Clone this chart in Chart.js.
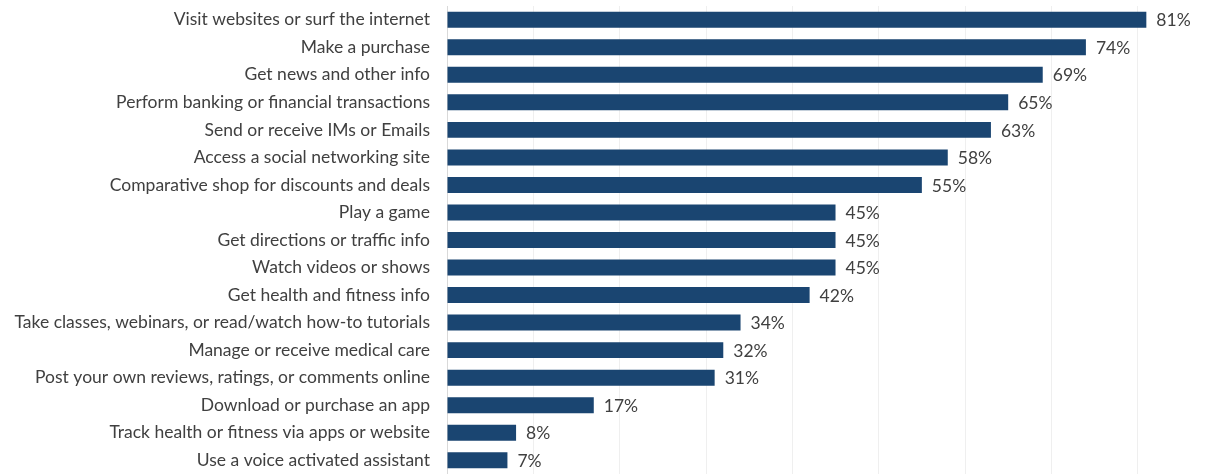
<!DOCTYPE html>
<html>
<head>
<meta charset="utf-8">
<script src="https://cdn.jsdelivr.net/npm/chart.js@4"></script>
<style>
html,body{margin:0;padding:0;background:#fff;}
#wrap{width:1218px;height:474px;position:relative;}
</style>
</head>
<body>
<div id="wrap"><canvas id="c" width="1218" height="474"></canvas></div>
<script>
const categories = [
  "Visit websites or surf the internet",
  "Make a purchase",
  "Get news and other info",
  "Perform banking or financial transactions",
  "Send or receive IMs or Emails",
  "Access a social networking site",
  "Comparative shop for discounts and deals",
  "Play a game",
  "Get directions or traffic info",
  "Watch videos or shows",
  "Get health and fitness info",
  "Take classes, webinars, or read/watch how-to tutorials",
  "Manage or receive medical care",
  "Post your own reviews, ratings, or comments online",
  "Download or purchase an app",
  "Track health or fitness via apps or website",
  "Use a voice activated assistant"
];
const values = [81, 74, 69, 65, 63, 58, 55, 45, 45, 45, 42, 34, 32, 31, 17, 8, 7];
const gridTicks = [0, 10, 20, 30, 40, 50, 60, 70, 80];

const FONT = "Lato, 'Open Sans', sans-serif";
const FSIZE = 17.5;

const valueLabels = {
  id: 'valueLabels',
  afterDatasetsDraw(chart) {
    const ctx = chart.ctx;
    const meta = chart.getDatasetMeta(0);
    ctx.save();
    ctx.font = FSIZE + "px " + FONT;
    ctx.fillStyle = "#404040";
    ctx.textAlign = "left";
    ctx.textBaseline = "middle";
    meta.data.forEach((bar, i) => {
      ctx.fillText(values[i] + "%", bar.x + 10, bar.y + 1);
    });
    ctx.restore();
  }
};

new Chart(document.getElementById('c'), {
  type: 'bar',
  data: {
    labels: categories,
    datasets: [{
      data: values,
      backgroundColor: '#1a4571',
      borderWidth: 0,
      barPercentage: 0.58,
      categoryPercentage: 1.0
    }]
  },
  options: {
    indexAxis: 'y',
    responsive: false,
    animation: false,
    layout: { padding: { top: 6, bottom: 0, left: 0, right: 0 } },
    plugins: { legend: { display: false }, tooltip: { enabled: false } },
    scales: {
      x: {
        min: 0,
        max: 89.3,
        afterBuildTicks(scale) { scale.ticks = gridTicks.map(v => ({ value: v })); },
        afterFit(scale) { scale.height = 0; scale.paddingLeft = 0; scale.paddingRight = 0; },
        ticks: { display: false },
        grid: { color: '#efefef', lineWidth: 1, drawTicks: false },
        border: { display: false }
      },
      y: {
        afterFit(scale) { scale.width = 447; scale.paddingTop = 0; scale.paddingBottom = 0; },
        ticks: {
          padding: 17,
          color: '#404040',
          font: { family: FONT, size: FSIZE },
          autoSkip: false
        },
        grid: { display: false, drawTicks: false },
        border: { display: true, color: '#d9d9d9', width: 1 }
      }
    }
  },
  plugins: [valueLabels]
});
</script>
</body>
</html>
